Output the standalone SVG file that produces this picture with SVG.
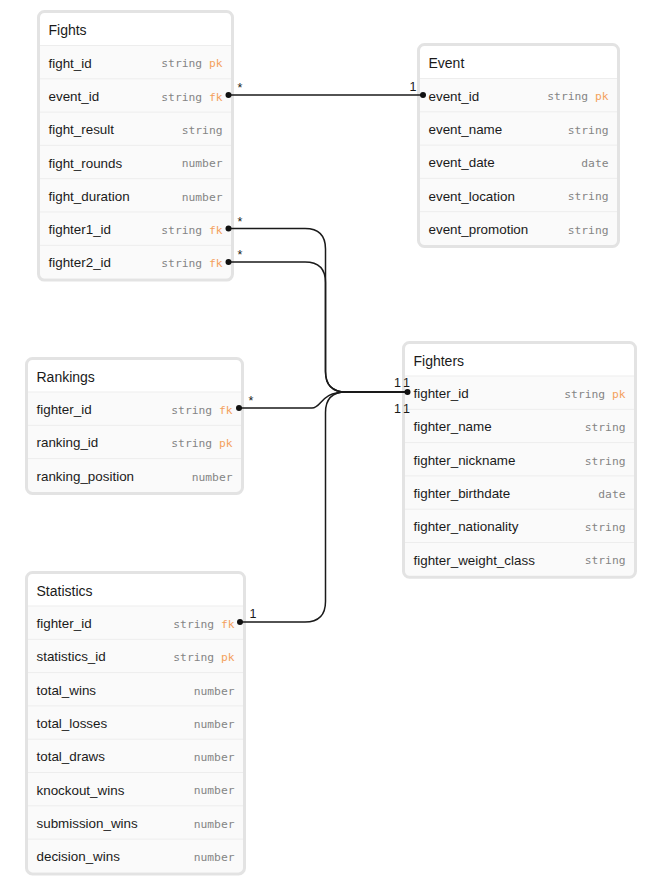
<svg xmlns="http://www.w3.org/2000/svg" width="660" height="888" viewBox="0 0 660 888">
<style>
.bg{fill:#fafafa}
.hd{fill:#ffffff}
.bd{fill:none;stroke:#e3e3e3;stroke-width:3}
.sep{stroke:#ededed;stroke-width:1}
.h{font-family:"Liberation Sans",Arial,sans-serif;font-size:14px;fill:#1a1a1a}
.n{font-family:"Liberation Sans",Arial,sans-serif;font-size:13.4px;fill:#1a1a1a}
.ty{font-family:"DejaVu Sans Mono","Liberation Mono",monospace;font-size:11.3px;fill:#858585;text-anchor:end}
.k{fill:#f4a15d}
.c{fill:none;stroke:#1a1a1a;stroke-width:1.5}
.dot{fill:#111}
.lbl{font-family:"Liberation Sans",Arial,sans-serif;font-size:12.5px;fill:#1a1a1a}
</style>

<g id="fights">
<rect class="bg" x="40" y="13" width="191" height="265.6"/>
<rect class="hd" x="40" y="13" width="191" height="32.5"/>
<path class="sep" d="M40 45.5H231M40 78.8H231M40 112.1H231M40 145.4H231M40 178.7H231M40 212H231M40 245.3H231"/>
<rect class="bd" x="38.5" y="11.5" width="194" height="268.6" rx="6"/>
<text class="h" x="48.5" y="35">Fights</text>
<text class="n" x="48.5" y="67.6">fight_id</text><text class="ty" x="222.5" y="67.4">string<tspan class="k"> pk</tspan></text>
<text class="n" x="48.5" y="100.9">event_id</text><text class="ty" x="222.5" y="100.7">string<tspan class="k"> fk</tspan></text>
<text class="n" x="48.5" y="134.2">fight_result</text><text class="ty" x="222.5" y="134">string</text>
<text class="n" x="48.5" y="167.5">fight_rounds</text><text class="ty" x="222.5" y="167.3">number</text>
<text class="n" x="48.5" y="200.8">fight_duration</text><text class="ty" x="222.5" y="200.6">number</text>
<text class="n" x="48.5" y="234.1">fighter1_id</text><text class="ty" x="222.5" y="233.9">string<tspan class="k"> fk</tspan></text>
<text class="n" x="48.5" y="267.4">fighter2_id</text><text class="ty" x="222.5" y="267.2">string<tspan class="k"> fk</tspan></text>
</g>

<g id="event">
<rect class="bg" x="420" y="46" width="197" height="199"/>
<rect class="hd" x="420" y="46" width="197" height="32.5"/>
<path class="sep" d="M420 78.5H617M420 111.8H617M420 145.1H617M420 178.4H617M420 211.7H617"/>
<rect class="bd" x="418.5" y="44.5" width="200" height="202" rx="6"/>
<text class="h" x="428.5" y="68.3">Event</text>
<text class="n" x="428.5" y="100.6">event_id</text><text class="ty" x="608.5" y="100.4">string<tspan class="k"> pk</tspan></text>
<text class="n" x="428.5" y="133.9">event_name</text><text class="ty" x="608.5" y="133.7">string</text>
<text class="n" x="428.5" y="167.2">event_date</text><text class="ty" x="608.5" y="167">date</text>
<text class="n" x="428.5" y="200.5">event_location</text><text class="ty" x="608.5" y="200.3">string</text>
<text class="n" x="428.5" y="233.8">event_promotion</text><text class="ty" x="608.5" y="233.6">string</text>
</g>

<g id="fighters">
<rect class="bg" x="405" y="344" width="229" height="231.8"/>
<rect class="hd" x="405" y="344" width="229" height="32"/>
<path class="sep" d="M405 376H634M405 409.3H634M405 442.6H634M405 475.9H634M405 509.2H634M405 542.5H634"/>
<rect class="bd" x="403.5" y="342.5" width="232" height="234.8" rx="6"/>
<text class="h" x="413.5" y="365.5">Fighters</text>
<text class="n" x="413.5" y="398.1">fighter_id</text><text class="ty" x="625.5" y="397.9">string<tspan class="k"> pk</tspan></text>
<text class="n" x="413.5" y="431.4">fighter_name</text><text class="ty" x="625.5" y="431.2">string</text>
<text class="n" x="413.5" y="464.7">fighter_nickname</text><text class="ty" x="625.5" y="464.5">string</text>
<text class="n" x="413.5" y="498">fighter_birthdate</text><text class="ty" x="625.5" y="497.8">date</text>
<text class="n" x="413.5" y="531.3">fighter_nationality</text><text class="ty" x="625.5" y="531.1">string</text>
<text class="n" x="413.5" y="564.6">fighter_weight_class</text><text class="ty" x="625.5" y="564.4">string</text>
</g>

<g id="rankings">
<rect class="bg" x="28" y="360" width="213" height="131.9"/>
<rect class="hd" x="28" y="360" width="213" height="32"/>
<path class="sep" d="M28 392H241M28 425.3H241M28 458.6H241"/>
<rect class="bd" x="26.5" y="358.5" width="216" height="134.9" rx="6"/>
<text class="h" x="36.5" y="382">Rankings</text>
<text class="n" x="36.5" y="414.1">fighter_id</text><text class="ty" x="232.5" y="413.9">string<tspan class="k"> fk</tspan></text>
<text class="n" x="36.5" y="447.4">ranking_id</text><text class="ty" x="232.5" y="447.2">string<tspan class="k"> pk</tspan></text>
<text class="n" x="36.5" y="480.7">ranking_position</text><text class="ty" x="232.5" y="480.5">number</text>
</g>

<g id="statistics">
<rect class="bg" x="28" y="574" width="215" height="298.4"/>
<rect class="hd" x="28" y="574" width="215" height="32"/>
<path class="sep" d="M28 606H243M28 639.3H243M28 672.6H243M28 705.9H243M28 739.2H243M28 772.5H243M28 805.8H243M28 839.1H243"/>
<rect class="bd" x="26.5" y="572.5" width="218" height="301.4" rx="6"/>
<text class="h" x="36.5" y="596">Statistics</text>
<text class="n" x="36.5" y="628.1">fighter_id</text><text class="ty" x="234.5" y="627.9">string<tspan class="k"> fk</tspan></text>
<text class="n" x="36.5" y="661.4">statistics_id</text><text class="ty" x="234.5" y="661.2">string<tspan class="k"> pk</tspan></text>
<text class="n" x="36.5" y="694.7">total_wins</text><text class="ty" x="234.5" y="694.5">number</text>
<text class="n" x="36.5" y="728">total_losses</text><text class="ty" x="234.5" y="727.8">number</text>
<text class="n" x="36.5" y="761.3">total_draws</text><text class="ty" x="234.5" y="761.1">number</text>
<text class="n" x="36.5" y="794.6">knockout_wins</text><text class="ty" x="234.5" y="794.4">number</text>
<text class="n" x="36.5" y="827.9">submission_wins</text><text class="ty" x="234.5" y="827.7">number</text>
<text class="n" x="36.5" y="861.2">decision_wins</text><text class="ty" x="234.5" y="861">number</text>
</g>

<g id="connectors">
<path class="c" d="M228.5 95H423"/>
<path class="c" d="M228.5 228.5H305Q325.5 228.5 325.5 249V371.5Q325.5 392 346 392H407.5"/>
<path class="c" d="M228.5 262H305Q325.5 262 325.5 282.5V371.5Q325.5 392 346 392H407.5"/>
<path class="c" d="M239 408H312C322 408 320 392 346 392H407.5"/>
<path class="c" d="M240 622H305Q325.5 622 325.5 601.5V412.5Q325.5 392 346 392H407.5"/>
<circle class="dot" cx="228.5" cy="95" r="3"/>
<circle class="dot" cx="423" cy="95" r="3"/>
<circle class="dot" cx="228.5" cy="228.5" r="3"/>
<circle class="dot" cx="228.5" cy="262" r="3"/>
<circle class="dot" cx="407.5" cy="392" r="3"/>
<circle class="dot" cx="239" cy="408" r="3"/>
<circle class="dot" cx="240" cy="622" r="3"/>
<text class="lbl" x="237.5" y="92">*</text>
<text class="lbl" x="416.5" y="90.5" text-anchor="end">1</text>
<text class="lbl" x="237.5" y="225.5">*</text>
<text class="lbl" x="237.5" y="259">*</text>
<text class="lbl" x="248.5" y="405">*</text>
<text class="lbl" x="249.5" y="618">1</text>
<text class="lbl" x="401" y="387" text-anchor="end">1</text>
<text class="lbl" x="410" y="387" text-anchor="end">1</text>
<text class="lbl" x="401" y="413" text-anchor="end">1</text>
<text class="lbl" x="410" y="413" text-anchor="end">1</text>
</g>
</svg>
